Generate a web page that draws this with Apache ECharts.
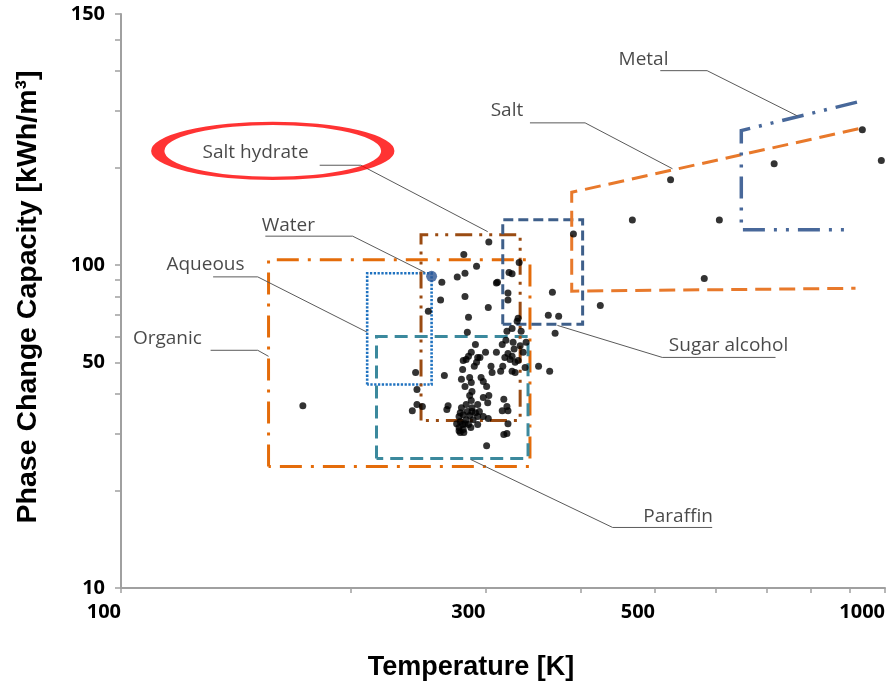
<!DOCTYPE html>
<html>
<head>
<meta charset="utf-8">
<script src="https://cdn.jsdelivr.net/npm/echarts@6/dist/echarts.min.js"></script>
<style>html,body{margin:0;padding:0;background:#fff}#c{width:890px;height:691px}</style>
</head>
<body>
<div id="c"></div>
<script>
// ---- axis ticks / labels ----
const xTickValues = [100,200,300,400,500,600,700,800,900,1000];
const xLabelValues = [100,300,500,1000];
const xLabelTexts = ['100','300','500','1000'];
const yTickValues = [10,20,30,40,50,60,70,80,90,100,200,300,400,500,600];
const yLabelValues = [10,50,100,600];
const yLabelTexts = ['10','50','100','150'];

// ---- PCM data points: temperature [K], capacity ----
const pcmTemp = [303,281,332,292,282,275.5,322,325,263,311,310,321,321,262,282,302.5,285,331,330,362.5,284,325,320,334,252.5,
  291,315.5,319,326,339,300,310,287.4,285,280.5,283,293,295,292,290,321,325,323,328,331,336,316,314,305,306,280,338,325,328,352,364,
  243,265,279,286,296,298,287.4,282,301,244,286,287.4,303,298,317,293,302,288,268,267,244,248,240.6,278,280.5,277,284,288,291,293,289,298,302.5,
  278,280,282,285,277,280.5,278,293,315.5,320,321,321,320,317,301,
  467,391,367,424,374,370,934,989,716,524,607,580,173,
  275,283,287,277,281,286,294.5,279,288,283,327,318,333];
const pcmCap = [118,108,102,99.3,94.4,92,95,94,88.6,88.6,88,82,78,78,80,74,69,68.5,67,70,62,63.7,62.4,62.4,72,
  56.8,56.8,58.5,57.7,57.7,53.7,53.7,53.7,52.2,50.7,51,51.8,51.8,50,48.6,53.3,52.2,51,50,50.7,53.7,48.6,46.9,48.6,46.5,47.5,48.2,46.9,46.5,48.6,46.9,
  46.5,45.5,44.3,44.9,44.9,43.6,43.3,42.1,42.1,41.2,39.5,38.1,39.5,38.9,38.4,37,37.5,36.2,36.7,35.7,37,36.5,35.4,34.9,34.4,34,35.2,35.2,34.9,34,33.2,34,33.5,
  32.8,32.1,32.3,32.1,31.4,31,30.3,32.1,35.4,36.5,35.4,32.3,30.1,29.9,27.6,
  138,125,82.5,75,69.5,61.5,263,211,206,184,138,91,36.7,
  32.3,33.2,31.4,30.7,30.3,34.2,35.2,36.2,40.6,37,55,51.8,56.3];

// Water single point
const waterPoint = [255, 92.4];

// ---- material class regions (temperature, capacity) ----
const organicT = [156,156,343,343,156];
const organicC = [23.8,104,104,23.8,23.8];
const aqueousT = [210,210,255,255,210];
const aqueousC = [42.7,94.4,94.4,42.7,42.7];
const saltHydrateT = [247,247,333,333,247];
const saltHydrateC = [33.0,124.2,124.2,33.0,33.0];
const paraffinT = [216,216,341,341,216];
const paraffinC = [25.2,60.1,60.1,25.2,25.2];
const sugarT = [316,316,402,402,316];
const sugarC = [65.6,138.2,138.2,65.6,65.6];
const saltT = [923,389,389,915];
const saltC = [264.5,168.2,83.1,84.8];
const metalT = [919,648.5,648.5,887];
const metalC = [320,261.3,128.7,128.7];

// ---- annotation labels and leader lines ----
const annNames = ['Metal','Salt','Salt hydrate','Water','Aqueous','Organic','Sugar alcohol','Paraffin'];
const annT = [483,320,150,165.6,129,115,624,536];
const annC = [433,301,224,133,100.7,59.3,56.4,16.7];
const leaderT = [[508,585,768],[343,405,527],[182,206,302],[154.5,201,250],[132,151,210],[131,151,156],[372.5,511,719],[287,440,594]];
const leaderC = [[400.5,400.5,290],[276,276,199],[204,204,127],[123,123,95],[92,92,62],[54.5,54.5,52.2],[65.1,51.8,51.8],[25,15.4,15.4]];
const highlightCenter = [158, 226];

const zip = (a,b) => a.map((v,i)=>[v,b[i]]);

function shape(T, C, color, dash, width) {
  return {
    type:'line', data: zip(T,C), symbol:'none', silent:true, animation:false, z:3,
    lineStyle:{color:color, width:width||3, type:dash, cap:'butt', join:'miter'}
  };
}

const series = [
  shape(organicT, organicC, '#E46C0A', [22,9,3,9], 3),
  shape(paraffinT, paraffinC, '#3B899D', [13,7], 3),
  shape(aqueousT, aqueousC, '#1F72C0', [2.3,1.5], 2.6),
  shape(saltHydrateT, saltHydrateC, '#9A4B12', [17,7,3,7,3,7], 3),
  shape(sugarT, sugarC, '#3E5F8A', [10,5], 3),
  shape(saltT, saltC, '#E8792B', [16,8], 3),
  shape(metalT, metalC, '#48689A', [22,9,3,9,3,9], 3.5)
];
leaderT.forEach((t,i)=>{
  series.push({type:'line', data: zip(t, leaderC[i]), symbol:'none', silent:true, animation:false, z:4,
    lineStyle:{color:'#5a5a5a', width:1}});
});
series.push({
  type:'scatter', data: zip(pcmTemp, pcmCap), symbolSize:7, animation:false, z:5,
  itemStyle:{color:'#000'}
});
series.push({
  type:'scatter', data:[waterPoint], symbolSize:11, animation:false, z:6,
  itemStyle:{color:'#2C5593'}
});
series.push({
  type:'scatter', data:[highlightCenter], symbol:'circle', symbolSize:[230,55], animation:false, z:6, silent:true,
  itemStyle:{color:'rgba(0,0,0,0)', borderColor:'#FF0000', borderWidth:6.5}
});
series.push({
  type:'scatter', animation:false, z:7, silent:true, symbolSize:1,
  itemStyle:{color:'rgba(0,0,0,0)'},
  data: annNames.map((n,i)=>({name:n, value:[annT[i], annC[i]]})),
  label:{show:true, position:'inside', formatter:p=>p.name, color:'#1a1a1a', fontSize:19, fontFamily:'Open Sans'}
});

const chart = echarts.init(document.getElementById('c'), null, {renderer:'canvas'});
chart.setOption({
  backgroundColor:'#fff',
  animation:false,
  grid:{left:121, right:5, top:14, bottom:103, containLabel:false, outerBoundsMode:'none'},
  xAxis:{
    type:'log', logBase:10, min:100, max:1000,
    axisLine:{show:true, lineStyle:{color:'#A0A0A0', width:2}},
    axisTick:{show:true, customValues:xTickValues, length:5, lineStyle:{color:'#A0A0A0', width:1.5}},
    axisLabel:{customValues:xLabelValues, align:'right', margin:14, color:'#000', fontWeight:'bold', fontSize:20, fontFamily:'Open Sans',
      formatter:v=>{const i=xLabelValues.indexOf(Math.round(v)); return i>=0?xLabelTexts[i]:'';}},
    splitLine:{show:false}
  },
  yAxis:{
    type:'log', logBase:10, min:10, max:600,
    axisLine:{show:true, lineStyle:{color:'#A0A0A0', width:2}},
    axisTick:{show:true, customValues:yTickValues, length:6, lineStyle:{color:'#A0A0A0', width:1.5}},
    axisLabel:{customValues:yLabelValues, margin:16, color:'#000', fontWeight:'bold', fontSize:20, fontFamily:'Open Sans',
      formatter:v=>{const i=yLabelValues.indexOf(Math.round(v)); return i>=0?yLabelTexts[i]:'';}},
    splitLine:{show:false}
  },
  graphic:[
    {type:'text', x:471, y:668, style:{text:'Temperature [K]', align:'center', verticalAlign:'middle', fill:'#000', font:'bold 27px "Liberation Sans", Arial, sans-serif'}},
    {type:'text', x:28, y:297, rotation:Math.PI/2, style:{text:'Phase Change Capacity [kWh/m³]', align:'center', verticalAlign:'middle', fill:'#000', font:'bold 28.5px "Liberation Sans", Arial, sans-serif'}}
  ],
  series: series
});
</script>
</body>
</html>
